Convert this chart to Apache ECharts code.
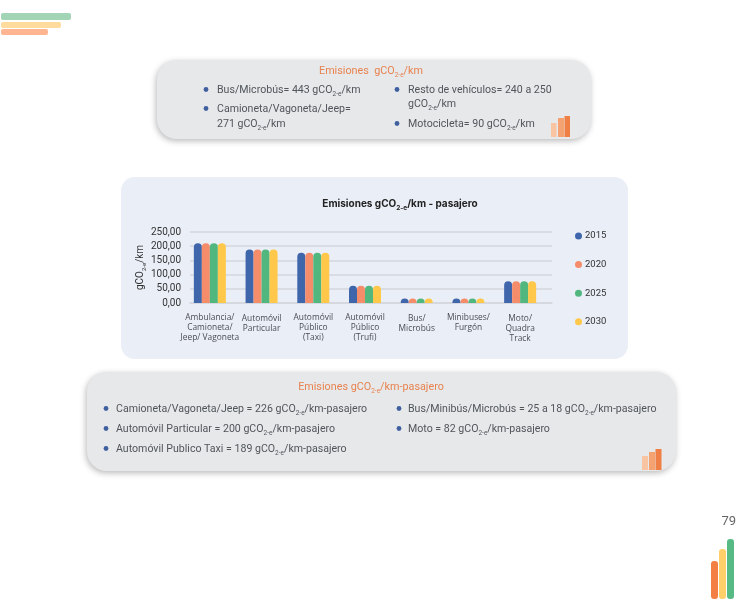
<!DOCTYPE html>
<html><head><meta charset="utf-8">
<style>html,body{margin:0;padding:0;background:#fff}#c{width:749px;height:599px}</style>
<script src="https://cdn.jsdelivr.net/npm/echarts@6/dist/echarts.min.js"></script>
</head><body><div id="c"></div>
<script>
const categories = ['Ambulancia/\nCamioneta/\nJeep/ Vagoneta','Automóvil\nParticular','Automóvil\nPúblico\n(Taxi)','Automóvil\nPúblico\n(Trufi)','Bus/\nMicrobús','Minibuses/\nFurgón','Moto/\nQuadra\nTrack'];
const labelNudgeTop = [0,1.5,0,0.5,1.5,0,1.5];
const years = ['2015','2020','2025','2030'];
const s2015 = [210,188,177,61,16,16,77];
const s2020 = [210,188,177,61,16,16,77];
const s2025 = [210,188,177,61,16,16,77];
const s2030 = [210,188,177,61,16,16,77];
const colors = ['#3f66ab','#f58d6a','#52b77f','#ffc84a'];
const seriesValues = [s2015,s2020,s2025,s2030];
const yTicks = ['0,00','50,00','100,00','150,00','200,00','250,00'];

const panel1Title = 'Emisiones  gCO{s|2-e}/km';
const panel1Left = [['Bus/Microbús= 443 gCO{s|2-e}/km',90,true],['Camioneta/Vagoneta/Jeep=',109,true],['271 gCO{s|2-e}/km',124,false]];
const panel1Right = [['Resto de vehículos= 240 a 250',90,true],['gCO{s|2-e}/km',104,false],['Motocicleta= 90 gCO{s|2-e}/km',124,true]];
const panel3Title = 'Emisiones gCO{s|2-e}/km-pasajero';
const panel3Left = [['Camioneta/Vagoneta/Jeep = 226 gCO{s|2-e}/km-pasajero',409,true],['Automóvil Particular = 200 gCO{s|2-e}/km-pasajero',429,true],['Automóvil Publico Taxi = 189 gCO{s|2-e}/km-pasajero',449,true]];
const panel3Right = [['Bus/Minibús/Microbús = 25 a 18 gCO{s|2-e}/km-pasajero',409,true],['Moto = 82 gCO{s|2-e}/km-pasajero',429,true]];

const F='Roboto';
const sub=(c,sz)=>({s:{fontSize:sz||6.5,fontFamily:F,fill:c,color:c,verticalAlign:'bottom',padding:[9,0,0,0]}});
function panel(x,y,w,h,r,fill){return {type:'rect',z:-10,shape:{x,y,width:w,height:h,r},style:{fill,shadowBlur:6,shadowColor:'rgba(0,0,0,0.28)',shadowOffsetY:2,shadowOffsetX:-1}};}
function plain(x,y,w,h,fill,r){return {type:'rect',z:-5,shape:{x,y,width:w,height:h,r:r||0},style:{fill}};}
function txt(t,x,y,opt){opt=opt||{};const c=opt.color||'#50555b';return {type:'text',z:5,x,y,style:Object.assign({text:t,fontFamily:F,fontSize:opt.size||10.6,fill:c,align:opt.align||'left',verticalAlign:'middle',rich:sub(c)})};}
function bullets(list,dotX,textX,size){const out=[];list.forEach(([t,y,b])=>{if(b)out.push({type:'circle',z:5,shape:{cx:dotX,cy:y-0.5,r:2.4},style:{fill:'#3f5f9f'}});out.push(txt(t,textX,y,{size}));});return out;}

const graphics=[
 plain(1,13,70,7,'#a2d5b6',2),plain(1,22,60,6,'#ffdc9e',2),plain(1,29,47,6,'#ffb592',2),
 panel(157,60,434,79,20,'#e7e8ea'),
 panel(87,372,589,99,20,'#e7e8ea'),
 {type:'rect',z:-10,shape:{x:121,y:177,width:507,height:182,r:14},style:{fill:'#eaeef7'}},
 plain(551,123,5.5,14,'#f9c4a2'),plain(558,118,6,19,'#f5a272'),plain(564.5,116,5.5,21,'#ef7f45'),
 plain(642,456,6,14,'#f9c4a2'),plain(649,452,6,18,'#f5a272'),plain(655.5,449,6,21,'#ef7f45'),
 plain(711,561,7,38,'#f47f45',3),plain(719,549,7,50,'#ffcf6a',3),plain(727,539,7,60,'#57ba85',3),
 txt('79',736,522,{size:13,align:'right',color:'#666'}),
 txt(panel1Title,371,71,{size:10.8,align:'center',color:'#e8834f'}),
 txt(panel3Title,371,387,{size:10.8,align:'center',color:'#e8834f'}),
 ...bullets(panel1Left,206,217),...bullets(panel1Right,397,408),
 ...bullets(panel3Left,106,116),...bullets(panel3Right,399,408)
];

const barSeries=years.map((y,i)=>({name:y,type:'bar',xAxisIndex:1,yAxisIndex:1,data:seriesValues[i],barWidth:8,barGap:'0%',
  itemStyle:{color:colors[i],borderRadius:[4,4,0,0]}}));

const chart=echarts.init(document.getElementById('c'),null,{renderer:'canvas'});
chart.setOption({
 animation:false,backgroundColor:'#fff',
 title:{text:'Emisiones gCO{s|2-e}/km - pasajero',left:395,top:191,textAlign:'center',
   textStyle:{fontFamily:'Inter',fontSize:10,fontWeight:700,color:'#222',rich:{s:{fontSize:6.5,fontFamily:'Inter',fontWeight:700,color:'#222',verticalAlign:'bottom',padding:[9,0,0,0]}}}},
 legend:{data:years,orient:'vertical',left:570,top:226,itemWidth:7,itemHeight:7,itemGap:18.6,icon:'circle',
   textStyle:{fontFamily:'Roboto',fontSize:9.5,color:'#333',padding:[0,0,0,-2]}},
 grid:[{left:190,width:362,top:232,height:71},{left:184,width:362,top:232,height:71}],
 xAxis:[
  {type:'value',gridIndex:0,min:0,max:1,axisLine:{show:true,onZero:true,lineStyle:{color:'#d3d6dd',width:1.5}},axisTick:{show:false},axisLabel:{show:false},splitLine:{show:false}},
  {type:'category',gridIndex:1,data:categories.map((c,i)=>({value:c,textStyle:{padding:[labelNudgeTop[i],0,0,0]}})),axisLine:{show:false},axisTick:{show:false},
   axisLabel:{interval:0,margin:9.5,fontFamily:'Open Sans',fontSize:8.4,color:'#4a4d52',lineHeight:10,verticalAlign:'top'}}
 ],
 yAxis:[
  {type:'value',gridIndex:0,min:0,max:250,interval:50,name:'gCO{s|2-e}/km',nameLocation:'middle',nameGap:39,nameRotate:90,
   nameTextStyle:{fontFamily:'Roboto',fontSize:10,color:'#333',rich:{s:{fontSize:6,color:'#333',fontFamily:'Roboto',verticalAlign:'bottom',padding:[8,0,0,0]}}},
   axisLine:{show:false},axisTick:{show:false},
   axisLabel:{margin:9,fontFamily:'Roboto',fontSize:10,color:'#333',formatter:(v,i)=>yTicks[i]},
   splitLine:{show:true,lineStyle:{color:'#d3d6dd',width:1.5}}},
  {type:'value',gridIndex:1,min:0,max:250,interval:50,show:false,splitLine:{show:false}}
 ],
 series:barSeries,
 graphic:graphics
});
</script></body></html>
